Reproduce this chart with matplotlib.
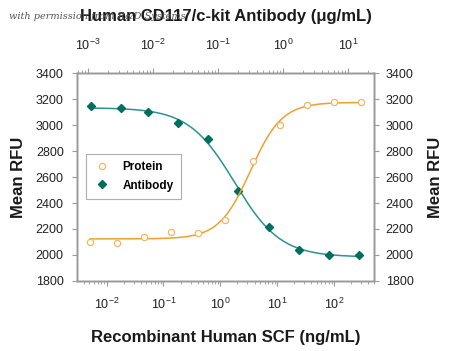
import numpy as np
import matplotlib
matplotlib.use("Agg")
import matplotlib.pyplot as plt
from matplotlib.ticker import LogLocator, NullFormatter

plt.rcParams['font.family'] = ['Liberation Sans', 'DejaVu Sans']
plt.rcParams['mathtext.fontset'] = 'custom'
plt.rcParams['mathtext.rm'] = 'Liberation Sans'
plt.rcParams['mathtext.it'] = 'Liberation Sans:italic'
plt.rcParams['mathtext.bf'] = 'Liberation Sans:bold'

# 重组 SCF 浓度 (ng/mL) 与荧光值
scf_conc = [0.0051, 0.0152, 0.0457, 0.137, 0.41, 1.23, 3.7, 11.1, 33.3, 100, 300]
protein_rfu = [2101, 2091, 2139, 2178, 2166, 2268, 2723, 3001, 3155, 3176, 3176]

# 抗体浓度 (ug/mL) 与荧光值
ab_conc = [0.00111, 0.0032, 0.0083, 0.024, 0.069, 0.20, 0.61, 1.76, 5.2, 15]
antibody_rfu = [3150, 3132, 3099, 3017, 2895, 2494, 2212, 2037, 2000, 1996]

y_ticks = [1800, 2000, 2200, 2400, 2600, 2800, 3000, 3200, 3400]

gray = '#9a9a9a'
orange_line = '#f0a030'
orange_pt = '#f4b668'
teal_line = '#2a9490'
teal_pt = '#006e5c'


def fit_4pl(x, y):
    # 固定 EC50 和斜率时模型对上下平台是线性的，网格搜索 + 最小二乘
    x = np.asarray(x, float)
    y = np.asarray(y, float)
    best = None
    for lec in np.linspace(np.log10(x.min()), np.log10(x.max()), 300):
        for h in np.linspace(0.3, 3.0, 120):
            s = 1.0 / (1.0 + (10 ** lec / x) ** h)
            A = np.column_stack([1 - s, s])
            coef, *_ = np.linalg.lstsq(A, y, rcond=None)
            err = np.sum((A @ coef - y) ** 2)
            if best is None or err < best[0]:
                best = (err, lec, h, coef)
    _, lec, h, coef = best

    def f(xx):
        s = 1.0 / (1.0 + (10 ** lec / xx) ** h)
        return coef[0] * (1 - s) + coef[1] * s
    return f


fig = plt.figure(figsize=(4.5, 3.51), dpi=100)
ax = fig.add_axes([0.171, 0.2, 0.66, 0.591])
ax_top = ax.twiny()
ax_r = ax.twinx()

# 蛋白曲线（下轴）
f_p = fit_4pl(scf_conc, protein_rfu)
xs = np.logspace(np.log10(min(scf_conc)), np.log10(max(scf_conc)), 200)
ax.plot(xs, f_p(xs), color=orange_line, lw=1.1, zorder=2)
p_handle, = ax.plot(scf_conc, protein_rfu, 'o', ms=4.5, mfc='white', mec=orange_pt,
                    mew=0.9, zorder=3, label='Protein')

# 抗体曲线（上轴）
f_a = fit_4pl(ab_conc, antibody_rfu)
xa = np.logspace(np.log10(min(ab_conc)), np.log10(max(ab_conc)), 200)
ax_top.plot(xa, f_a(xa), color=teal_line, lw=1.1, zorder=2)
ab_handle, = ax_top.plot(ab_conc, antibody_rfu, 'D', ms=4, color=teal_pt, zorder=3,
                         label='Antibody')

ax.set_xscale('log')
ax_top.set_xscale('log')
ax.set_xlim(10 ** -2.52, 10 ** 2.70)
ax_top.set_xlim(10 ** -3.17, 10 ** 1.40)
for a in (ax, ax_r):
    a.set_ylim(1800, 3400)
    a.set_yticks(y_ticks)

for a in (ax, ax_top):
    a.xaxis.set_major_locator(LogLocator(base=10, numticks=10))
    a.xaxis.set_minor_locator(LogLocator(base=10, subs=np.arange(2, 10), numticks=20))
    a.xaxis.set_minor_formatter(NullFormatter())

for a in (ax, ax_top, ax_r):
    for sp in a.spines.values():
        sp.set_color(gray)
        sp.set_linewidth(1.0)
    a.tick_params(which='both', direction='out', color=gray, labelsize=9,
                  labelcolor='#222222')
    a.tick_params(which='major', length=3.5, width=0.8)
    a.tick_params(which='minor', length=2, width=0.6)

ax.tick_params(axis='y', pad=6)
ax_r.tick_params(axis='y', pad=5)
ax.tick_params(axis='x', pad=8)
ax_top.tick_params(axis='x', pad=11)

lab = dict(fontsize=12, fontweight='bold', color='#1a1a1a')
ax.set_xlabel('Recombinant Human SCF (ng/mL)', labelpad=13, **lab)
ax_top.set_xlabel('Human CD117/c-kit Antibody (\u03bcg/mL)', labelpad=12, **lab)
ax.set_ylabel('Mean RFU', labelpad=7, **lab)
ax_r.set_ylabel('Mean RFU', labelpad=10, **lab)

leg = ax.legend([p_handle, ab_handle], ['Protein', 'Antibody'], loc='upper left',
                bbox_to_anchor=(0.01, 0.64), frameon=True, fancybox=False,
                prop={'weight': 'bold', 'size': 8.5}, handlelength=1.5,
                handletextpad=1.0, borderpad=0.6, labelspacing=0.55)
leg.get_frame().set_edgecolor(gray)
leg.get_frame().set_linewidth(0.8)
ax.set_zorder(ax_top.get_zorder() + 1)
ax.patch.set_visible(False)

fig.text(0.02, 0.945, 'with permission from R&D Systems', fontsize=7,
         style='italic', color='#555555', family=['DejaVu Serif'])

fig.savefig('out.png', dpi=100)
